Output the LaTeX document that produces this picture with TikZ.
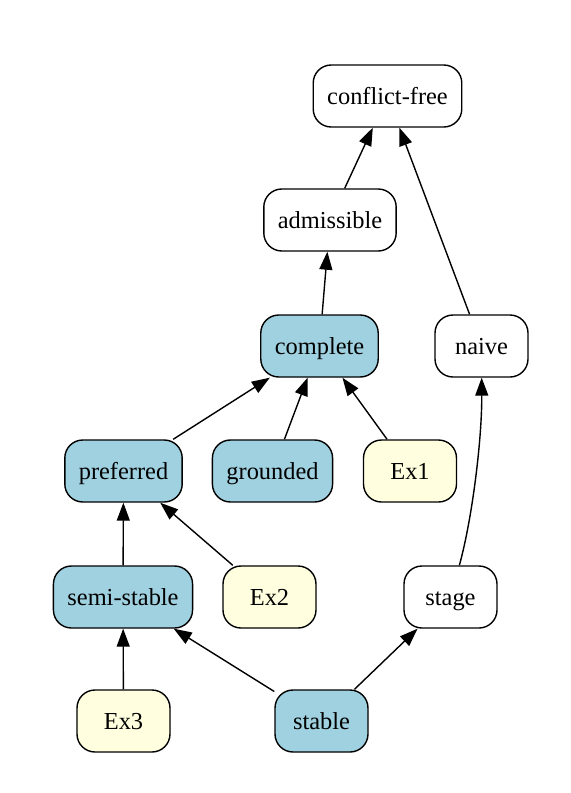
\documentclass[tikz,border=0pt]{standalone}
\usepackage{fontspec}
\setmainfont{Liberation Serif}
\usetikzlibrary{arrows.meta}

\definecolor{semblue}{HTML}{9FD1E0}
\definecolor{exyellow}{HTML}{FFFFE0}

\begin{document}
\begin{tikzpicture}[x=0.5pt, y={(0pt,-0.5pt)},
    sem/.style={draw, line width=0.7pt, rounded corners=9pt, minimum height=31pt,
      minimum width=46.5pt, inner xsep=7pt, text height=9.6pt, text depth=1.4pt,
      font=\fontsize{12.2}{14}\selectfont},
    filled/.style={sem, fill=semblue},
    example/.style={sem, fill=exyellow},
    edge/.style={line width=0.7pt, -{Triangle[length=9pt,width=6.5pt]}}]
  \useasboundingbox (0,0) rectangle (571,793);

  % Semantics
  \node[sem] (cf) at (387.5,96) {conflict-free};
  \node[sem] (adm) at (330,220) {admissible};
  \node[filled] (com) at (319.5,346) {complete};
  \node[sem] (nai) at (481.5,346) {naive};
  \node[filled] (prf) at (123.5,471) {preferred};
  \node[filled] (grd) at (272.5,471) {grounded};
  \node[filled] (sst) at (123,597) {semi-stable};
  \node[sem] (stg) at (450.5,597) {stage};
  \node[filled] (stb) at (321.5,721) {stable};

  % Examples
  \node[example] (ex1) at (410,471) {Ex1};
  \node[example] (ex2) at (269.5,597) {Ex2};
  \node[example] (ex3) at (123.5,721) {Ex3};

  % Edges
  \draw[edge] (adm) -- (cf);
  \draw[edge] (nai) -- (cf);
  \draw[edge] (com) -- (adm);
  \draw[edge] (prf) -- (com);
  \draw[edge] (grd) -- (com);
  \draw[edge] (ex1) -- (com);
  \draw[edge] (sst) -- (prf);
  \draw[edge] (ex2) -- (prf);
  \draw[edge] (ex3) -- (sst);
  \draw[edge] (stb) -- (sst);
  \draw[edge] (stb) -- (stg);
  \draw[edge] (stg) .. controls (472,520) and (482,440) .. (nai);
\end{tikzpicture}
\end{document}
